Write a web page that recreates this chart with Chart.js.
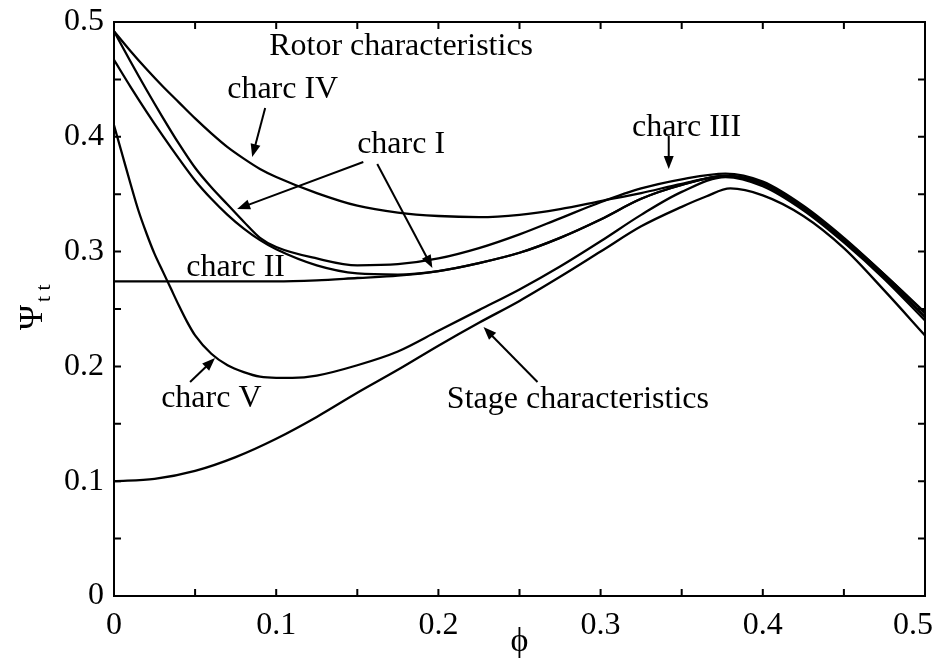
<!DOCTYPE html>
<html>
<head>
<meta charset="utf-8">
<script src="https://cdn.jsdelivr.net/npm/chart.js@4.4.1/dist/chart.umd.min.js"></script>
<style>
  html, body { margin: 0; padding: 0; background: #fff; }
  #wrap { width: 939px; height: 666px; }
</style>
</head>
<body>
<div id="wrap"><canvas id="psiChart"></canvas></div>
<script>
// curve data (phi -> psi_tt)
const phiStage = [0, 0.025, 0.05, 0.075, 0.1, 0.125, 0.15, 0.175, 0.2, 0.225, 0.25, 0.275, 0.3, 0.325, 0.35, 0.365, 0.38, 0.4, 0.425, 0.45, 0.475, 0.5];
const psiStage = [0.100, 0.102, 0.109, 0.121, 0.137, 0.156, 0.177, 0.197, 0.218, 0.238, 0.257, 0.278, 0.300, 0.322, 0.339, 0.348, 0.355, 0.349, 0.331, 0.303, 0.266, 0.227];

const phiRotor = [0, 0.01, 0.02, 0.03, 0.04, 0.05, 0.06, 0.07, 0.08, 0.09, 0.1, 0.125, 0.15, 0.175, 0.2, 0.225, 0.25, 0.275, 0.3, 0.325, 0.35, 0.377, 0.4, 0.425, 0.45, 0.475, 0.5];
const psiCharcIV  = [0.492, 0.475, 0.459, 0.444, 0.430, 0.416, 0.403, 0.391, 0.381, 0.372, 0.365, 0.351, 0.340, 0.334, 0.331, 0.330, 0.332, 0.337, 0.344, 0.351, 0.359, 0.366, 0.360, 0.339, 0.311, 0.280, 0.247];
const psiCharcIII = [0.492, 0.466, 0.441, 0.417, 0.394, 0.373, 0.356, 0.341, 0.326, 0.312, 0.304, 0.294, 0.288, 0.289, 0.294, 0.303, 0.315, 0.329, 0.343, 0.355, 0.363, 0.368, 0.361, 0.340, 0.312, 0.280, 0.246];
const psiCharcI   = [0.467, 0.444, 0.422, 0.401, 0.381, 0.362, 0.346, 0.332, 0.320, 0.310, 0.302, 0.288, 0.281, 0.280, 0.283, 0.290, 0.299, 0.312, 0.328, 0.346, 0.358, 0.366, 0.359, 0.338, 0.310, 0.278, 0.243];

const phiCharcII = [0, 0.05, 0.1, 0.125, 0.15, 0.175, 0.2, 0.225, 0.25, 0.275, 0.3, 0.325, 0.35, 0.377, 0.4, 0.425, 0.45, 0.475, 0.5];
const psiCharcII = [0.274, 0.274, 0.274, 0.275, 0.277, 0.279, 0.283, 0.290, 0.299, 0.312, 0.328, 0.346, 0.358, 0.366, 0.359, 0.338, 0.310, 0.278, 0.243];

const phiCharcV = [0, 0.005, 0.01, 0.015, 0.02, 0.025, 0.03, 0.035, 0.04, 0.045, 0.05, 0.06, 0.07, 0.08, 0.09, 0.1, 0.11, 0.125, 0.15, 0.175, 0.2, 0.225, 0.25, 0.275, 0.3, 0.325, 0.35, 0.377, 0.4, 0.425, 0.45, 0.475, 0.5];
const psiCharcV = [0.410, 0.385, 0.360, 0.336, 0.316, 0.298, 0.283, 0.268, 0.253, 0.239, 0.227, 0.211, 0.201, 0.195, 0.191, 0.190, 0.190, 0.192, 0.201, 0.213, 0.231, 0.249, 0.267, 0.287, 0.309, 0.332, 0.352, 0.365, 0.357, 0.336, 0.308, 0.276, 0.240];

// last x label is pulled in a little, as in the figure (trailing spaces)
const xTickLabels = ['0', '0.1', '0.2', '0.3', '0.4', '0.5   '];
const yTickLabels = ['0', '0.1', '0.2', '0.3', '0.4', '0.5'];

// labels and arrows, in data units: [text, x, y] and [fromX, fromY, toX, toY]
const notes = [
    ['Rotor characteristics', 0.177, 0.479],
    ['charc IV', 0.104, 0.441],
    ['charc I', 0.177, 0.393],
    ['charc II', 0.075, 0.286],
    ['charc III', 0.353, 0.408],
    ['charc V', 0.060, 0.172],
    ['Stage characteristics', 0.286, 0.171]
];
const arrows = [
    [0.0932, 0.4251, 0.0852, 0.3824],
    [0.1537, 0.3780, 0.0759, 0.3371],
    [0.1623, 0.3763, 0.1963, 0.2857],
    [0.3420, 0.4007, 0.3420, 0.3720],
    [0.0469, 0.1864, 0.0623, 0.2073],
    [0.2611, 0.1864, 0.2278, 0.2343]
];

const FONT = '"Liberation Serif", "Times New Roman", "DejaVu Serif", serif';

function pts(xs, ys) {
    return xs.map((v, i) => ({ x: v, y: ys[i] }));
}

function curve(label, xs, ys) {
    return {
        label: label,
        data: pts(xs, ys),
        borderColor: '#000',
        borderWidth: 2.3,
        pointRadius: 0,
        fill: false,
        cubicInterpolationMode: 'monotone'
    };
}

// no extra room for half tick labels, the frame sits where the figure has it
function noLabelPadding(scale) {
    scale.paddingLeft = 0;
    scale.paddingRight = 0;
    scale.paddingTop = 0;
    scale.paddingBottom = 0;
}

// frame with inward ticks on all four sides
const framePlugin = {
    id: 'frame',
    afterDraw(chart) {
        const { ctx, chartArea: a, scales: { x, y } } = chart;
        ctx.save();
        ctx.strokeStyle = '#000';
        ctx.lineWidth = 2;
        ctx.strokeRect(a.left, a.top, a.right - a.left, a.bottom - a.top);
        const len = 7;
        ctx.beginPath();
        x.ticks.forEach(t => {
            const px = x.getPixelForValue(t.value);
            ctx.moveTo(px, a.bottom); ctx.lineTo(px, a.bottom - len);
            ctx.moveTo(px, a.top); ctx.lineTo(px, a.top + len);
        });
        y.ticks.forEach(t => {
            const py = y.getPixelForValue(t.value);
            ctx.moveTo(a.left, py); ctx.lineTo(a.left + len, py);
            ctx.moveTo(a.right, py); ctx.lineTo(a.right - len, py);
        });
        ctx.stroke();

        // y axis title: Psi with subscript t t
        ctx.fillStyle = '#000';
        ctx.translate(42, 330);
        ctx.rotate(-Math.PI / 2);
        ctx.textBaseline = 'alphabetic';
        ctx.textAlign = 'left';
        ctx.font = '34px ' + FONT;
        ctx.fillText('Ψ', 0, 0);
        ctx.font = '22px ' + FONT;
        ctx.fillText('t t', 28, 8);
        ctx.restore();
    }
};

const notesPlugin = {
    id: 'notes',
    afterDatasetsDraw(chart) {
        const { ctx, scales: { x, y } } = chart;
        ctx.save();
        ctx.fillStyle = '#000';
        ctx.strokeStyle = '#000';
        ctx.font = '32px ' + FONT;
        ctx.textAlign = 'center';
        ctx.textBaseline = 'middle';
        notes.forEach(([txt, vx, vy]) => {
            ctx.fillText(txt, x.getPixelForValue(vx), y.getPixelForValue(vy));
        });
        ctx.lineWidth = 2;
        arrows.forEach(([x0, y0, x1, y1]) => {
            const ax = x.getPixelForValue(x0), ay = y.getPixelForValue(y0);
            const bx = x.getPixelForValue(x1), by = y.getPixelForValue(y1);
            const ang = Math.atan2(by - ay, bx - ax);
            const hl = 13, hw = 5;
            ctx.beginPath();
            ctx.moveTo(ax, ay);
            ctx.lineTo(bx - hl * 0.8 * Math.cos(ang), by - hl * 0.8 * Math.sin(ang));
            ctx.stroke();
            ctx.beginPath();
            ctx.moveTo(bx, by);
            ctx.lineTo(bx - hl * Math.cos(ang) + hw * Math.sin(ang), by - hl * Math.sin(ang) - hw * Math.cos(ang));
            ctx.lineTo(bx - hl * Math.cos(ang) - hw * Math.sin(ang), by - hl * Math.sin(ang) + hw * Math.cos(ang));
            ctx.closePath();
            ctx.fill();
        });
        ctx.restore();
    }
};

function tickLabel(list) {
    return function (value) {
        const k = Math.round(value * 100);
        if (k % 10 !== 0) return '';
        return list[k / 10];
    };
}

new Chart(document.getElementById('psiChart'), {
    type: 'line',
    data: {
        datasets: [
            curve('Stage characteristics', phiStage, psiStage),
            curve('charc V', phiCharcV, psiCharcV),
            curve('charc II', phiCharcII, psiCharcII),
            curve('charc I', phiRotor, psiCharcI),
            curve('charc III', phiRotor, psiCharcIII),
            curve('charc IV', phiRotor, psiCharcIV)
        ]
    },
    options: {
        responsive: true,
        maintainAspectRatio: false,
        animation: false,
        layout: { padding: { left: 0, right: 14, top: 22, bottom: 0 } },
        plugins: {
            legend: { display: false },
            tooltip: { enabled: false }
        },
        scales: {
            x: {
                type: 'linear',
                min: 0,
                max: 0.5,
                afterFit(scale) { scale.height = 70; noLabelPadding(scale); },
                grid: { display: false, drawTicks: false },
                border: { display: false },
                ticks: {
                    stepSize: 0.05,
                    autoSkip: false,
                    maxRotation: 0,
                    padding: 10,
                    color: '#000',
                    font: { family: FONT, size: 32 },
                    callback: tickLabel(xTickLabels)
                },
                title: {
                    display: true,
                    text: 'ϕ',
                    color: '#000',
                    font: { family: FONT, size: 34 },
                    padding: { top: 0, bottom: 4 }
                }
            },
            y: {
                type: 'linear',
                min: 0,
                max: 0.5,
                afterFit(scale) { scale.width = 114; noLabelPadding(scale); },
                grid: { display: false, drawTicks: false },
                border: { display: false },
                ticks: {
                    stepSize: 0.05,
                    autoSkip: false,
                    padding: 10,
                    color: '#000',
                    font: { family: FONT, size: 32 },
                    callback: tickLabel(yTickLabels)
                }
            }
        }
    },
    plugins: [framePlugin, notesPlugin]
});
</script>
</body>
</html>
